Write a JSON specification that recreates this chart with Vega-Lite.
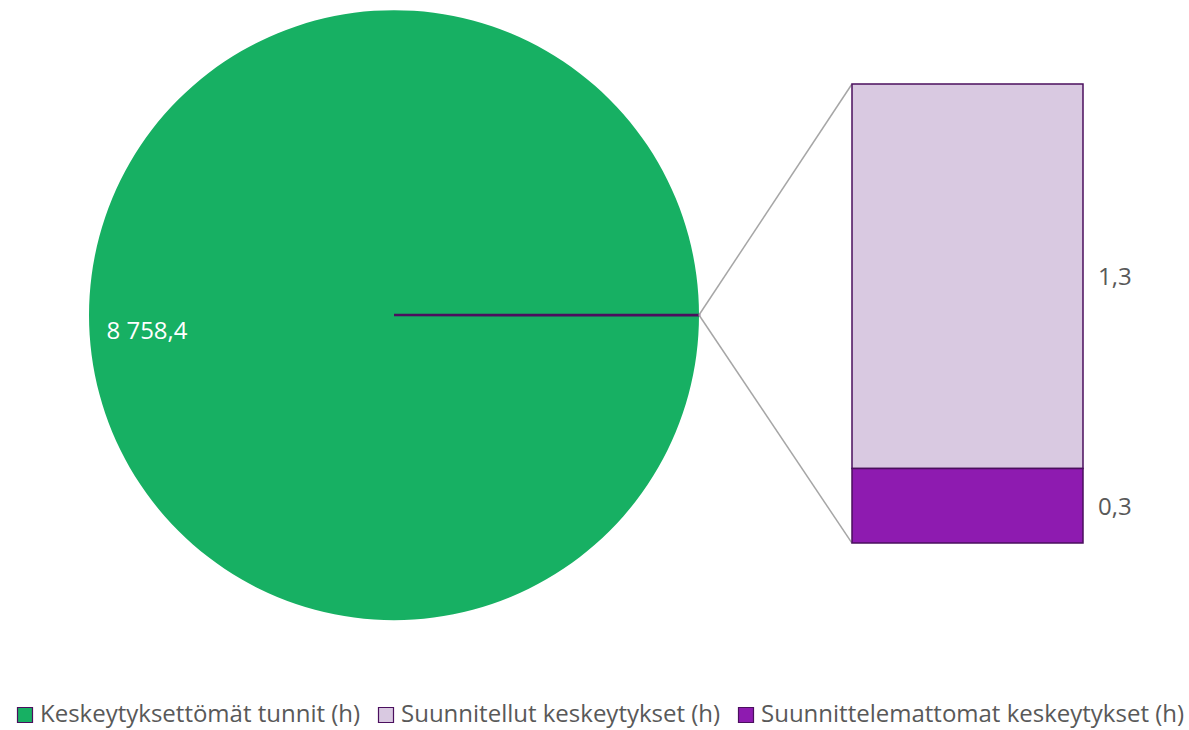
{
  "$schema": "https://vega.github.io/schema/vega-lite/v6.json",
  "padding": {"left": 13, "top": 10, "right": 0, "bottom": 8},
  "spacing": 0,
  "bounds": "flush",
  "config": {
    "view": {"stroke": null},
    "font": "Open Sans",
    "locale": {"number": {"decimal": ",", "thousands": " ", "grouping": [3], "currency": ["", " €"]}},
    "legend": {
      "orient": "none",
      "legendX": -76,
      "legendY": 693,
      "direction": "horizontal",
      "columns": 3,
      "columnPadding": 13,
      "symbolType": "square",
      "symbolSize": 225,
      "symbolStrokeWidth": 1.2,
      "symbolOffset": 0,
      "labelFont": "Open Sans",
      "labelFontSize": 24,
      "labelColor": "#595959",
      "labelOffset": 3,
      "labelLimit": 600,
      "title": null
    }
  },
  "datasets": {
    "pie": [
      {"cat": "Keskeytyksettömät tunnit (h)", "value": 8758.4},
      {"cat": "Muut", "value": 1.6}
    ],
    "bar": [
      {"cat": "Suunnitellut keskeytykset (h)", "value": 1.34},
      {"cat": "Suunnittelemattomat keskeytykset (h)", "value": 0.26}
    ],
    "connectors": [
      {"x": 0, "y": 0.795, "x2": 0.3825, "y2": 1.6},
      {"x": 0, "y": 0.795, "x2": 0.3825, "y2": 0}
    ]
  },
  "hconcat": [
    {
      "width": 610,
      "height": 610,
      "data": {"name": "pie"},
      "layer": [
        {
          "mark": {"type": "arc", "outerRadius": 305, "stroke": "#4B0F5E"},
          "encoding": {
            "theta": {"field": "value", "type": "quantitative", "stack": true, "scale": {"range": [1.5708, 7.854]}},
            "order": {"field": "value", "sort": "ascending"},
            "color": {
              "field": "cat", "type": "nominal",
              "scale": {
                "domain": ["Keskeytyksettömät tunnit (h)", "Suunnitellut keskeytykset (h)", "Suunnittelemattomat keskeytykset (h)", "Muut"],
                "range": ["#17B063", "#D9C9E1", "#8E1BB0", "#4B0F5E"]
              },
              "legend": {
                "values": ["Keskeytyksettömät tunnit (h)", "Suunnitellut keskeytykset (h)", "Suunnittelemattomat keskeytykset (h)"],
                "encode": {"symbols": {"update": {"stroke": {"signal": "datum.value === 'Keskeytyksettömät tunnit (h)' ? '#17B063' : '#4B0F5E'"}}}}
              }
            },
            "strokeWidth": {"condition": {"test": "datum.cat === 'Muut'", "value": 2.5}, "value": 0}
          }
        },
        {
          "transform": [{"filter": "datum.cat !== 'Muut'"}],
          "mark": {"type": "text", "radius": 247, "dy": 17, "color": "white", "fontSize": 24, "font": "Open Sans"},
          "encoding": {
            "theta": {"field": "value", "type": "quantitative", "stack": true, "scale": {"range": [1.5708, 7.854]}},
            "text": {"field": "value", "type": "quantitative", "format": ",.1f"}
          }
        }
      ]
    },
    {
      "width": 400,
      "height": 610,
      "layer": [
        {
          "data": {"name": "connectors"},
          "mark": {"type": "rule", "color": "#A6A6A6", "strokeWidth": 1.5},
          "encoding": {
            "x": {"field": "x", "type": "quantitative", "scale": {"domain": [0, 1], "nice": false, "zero": false}, "axis": null},
            "y": {"field": "y", "type": "quantitative", "scale": {"domain": [-0.268, 1.858], "nice": false, "zero": false}, "axis": null},
            "x2": {"field": "x2"},
            "y2": {"field": "y2"}
          }
        },
        {
          "data": {"name": "bar"},
          "transform": [
            {"stack": "value", "groupby": [], "sort": [{"field": "value", "order": "ascending"}], "as": ["y0", "y1"]}
          ],
          "mark": {"type": "rect", "stroke": "#4B0F5E", "strokeWidth": 1.5},
          "encoding": {
            "x": {"datum": 0.3825, "type": "quantitative", "scale": {"domain": [0, 1], "nice": false, "zero": false}, "axis": null},
            "x2": {"datum": 0.96},
            "y": {"field": "y1", "type": "quantitative", "scale": {"domain": [-0.268, 1.858], "nice": false, "zero": false}, "axis": null},
            "y2": {"field": "y0"},
            "color": {
              "field": "cat", "type": "nominal",
              "scale": {
                "domain": ["Keskeytyksettömät tunnit (h)", "Suunnitellut keskeytykset (h)", "Suunnittelemattomat keskeytykset (h)", "Muut"],
                "range": ["#17B063", "#D9C9E1", "#8E1BB0", "#4B0F5E"]
              },
              "legend": {
                "values": ["Keskeytyksettömät tunnit (h)", "Suunnitellut keskeytykset (h)", "Suunnittelemattomat keskeytykset (h)"],
                "encode": {"symbols": {"update": {"stroke": {"signal": "datum.value === 'Keskeytyksettömät tunnit (h)' ? '#17B063' : '#4B0F5E'"}}}}
              }
            }
          }
        },
        {
          "data": {"name": "bar"},
          "transform": [
            {"stack": "value", "groupby": [], "sort": [{"field": "value", "order": "ascending"}], "as": ["y0", "y1"]},
            {"fold": ["y0", "y1"], "as": ["edge", "pos"]},
            {"aggregate": [{"op": "mean", "field": "pos", "as": "mid"}, {"op": "max", "field": "value", "as": "value"}], "groupby": ["cat"]}
          ],
          "mark": {"type": "text", "align": "left", "dx": 15, "dy": 2, "fontSize": 24, "color": "#595959", "font": "Open Sans"},
          "encoding": {
            "x": {"datum": 0.96, "type": "quantitative", "scale": {"domain": [0, 1], "nice": false, "zero": false}, "axis": null},
            "y": {"field": "mid", "type": "quantitative", "scale": {"domain": [-0.268, 1.858], "nice": false, "zero": false}, "axis": null},
            "text": {"field": "value", "type": "quantitative", "format": ".1f"}
          }
        }
      ]
    }
  ]
}
